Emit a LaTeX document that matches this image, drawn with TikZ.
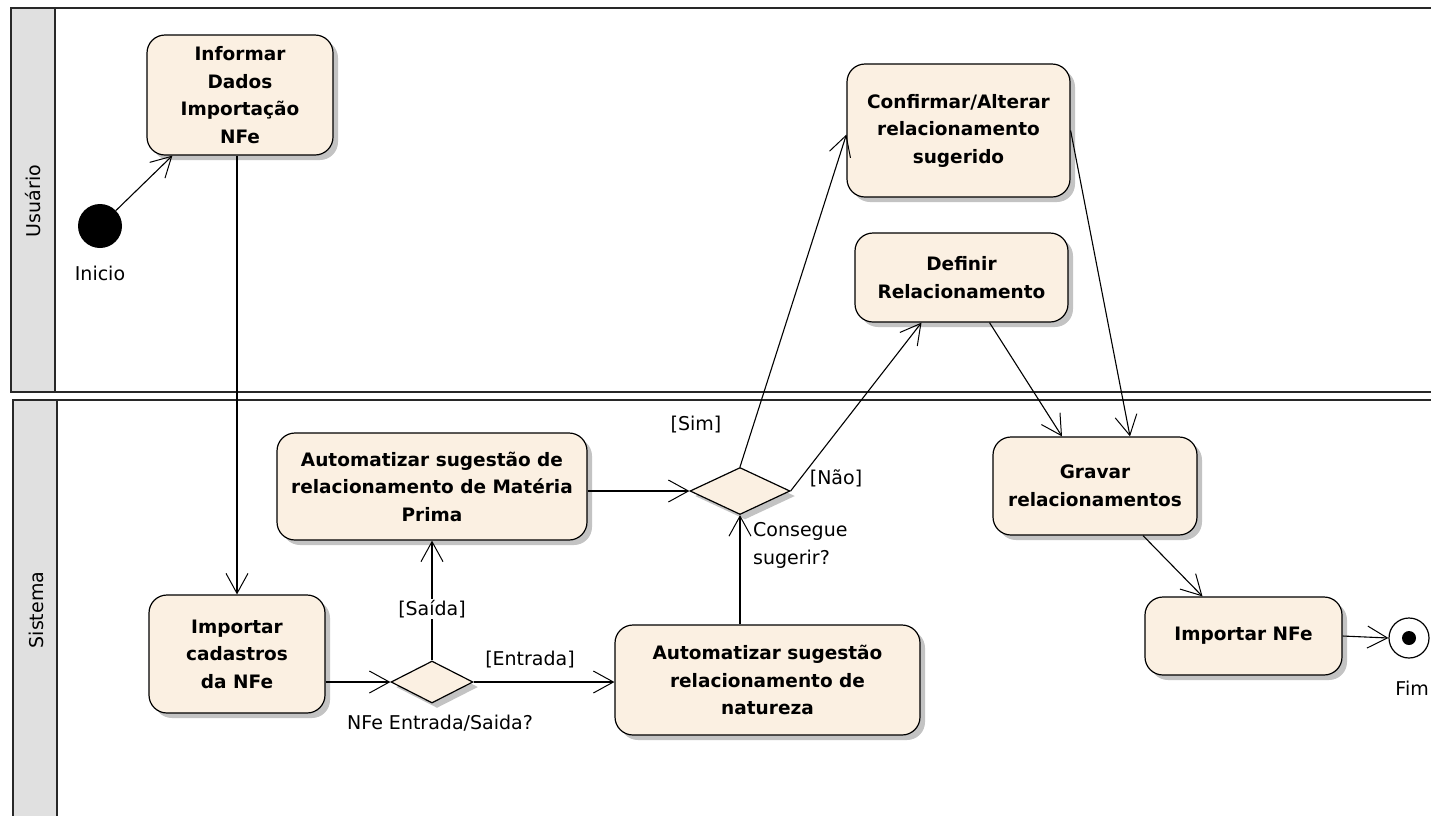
\documentclass[tikz,border=0pt]{standalone}
\usepackage{fontspec}
\setmainfont{DejaVu Sans}
\usetikzlibrary{arrows.meta,shapes.geometric,shadows,calc}
\definecolor{actfill}{RGB}{251,240,226}
\definecolor{lanegray}{RGB}{224,224,224}
\definecolor{shadowgray}{RGB}{195,195,195}
\definecolor{lanedark}{RGB}{40,40,40}
\tikzset{
  shad/.style={drop shadow={shadow xshift=5pt, shadow yshift=-5pt, fill=shadowgray, opacity=1}},
  act/.style={draw=black, line width=1.2pt, fill=actfill, rounded corners=18pt, align=center,
    font=\fontsize{18.5}{27.5}\selectfont\bfseries, inner sep=0pt, shad},
  dec/.style={diamond, draw=black, line width=1.2pt, fill=actfill, inner sep=0pt, shad},
  lab/.style={font=\fontsize{19}{28}\selectfont, inner sep=1pt},
  flow/.style={draw=black, line width=1.1pt, -{Straight Barb[length=20pt,width=22pt,line width=1pt]}},
  lanebox/.style={draw=lanedark, line width=2.8pt},
  lanehead/.style={draw=lanedark, line width=2.2pt, fill=lanegray}
}
\begin{document}
\begin{tikzpicture}[x=1pt,y=-1pt]
\useasboundingbox (0,0) rectangle (1431,815);
% lanes
\draw[lanebox, fill=white] (11,8) rectangle (1460,392);
\draw[lanehead] (11,8) rectangle (55,392);
\draw[lanebox, fill=white] (13,400) rectangle (1460,840);
\draw[lanehead] (13,400) rectangle (57,840);
\node[lab, rotate=90] (laneU) at (33,201) {Usuário};
\node[lab, rotate=90] (laneS) at (36,610) {Sistema};

% activities
\node[act, minimum width=186, minimum height=120] (inf) at (240,95) {Informar\\Dados\\Importação\\NFe};
\node[act, minimum width=223, minimum height=133] (conf) at (958.5,130.5) {Confirmar/Alterar\\relacionamento\\sugerido};
\node[act, minimum width=213, minimum height=89] (def) at (961.5,277.5) {Definir\\Relacionamento};
\node[act, minimum width=310, minimum height=107] (amp) at (432,486.5) {Automatizar sugestão de\\relacionamento de Matéria\\Prima};
\node[act, minimum width=204, minimum height=98] (grav) at (1095,486) {Gravar\\relacionamentos};
\node[act, minimum width=176, minimum height=118] (impcad) at (237,654) {Importar\\cadastros\\da NFe};
\node[act, minimum width=305, minimum height=110] (anat) at (767.5,680) {Automatizar sugestão\\relacionamento de\\natureza};
\node[act, minimum width=197, minimum height=78] (impnfe) at (1243.5,636) {Importar NFe};

% decisions
\node[dec, minimum width=82, minimum height=42] (d1) at (432,682) {};
\node[dec, minimum width=100, minimum height=47] (d2) at (740,491) {};

% initial and final
\node[circle, fill=black, minimum size=44, inner sep=0pt] (init) at (100,226) {};
\node[lab] (initL) at (100,273) {Inicio};
\node[circle, draw=black, line width=1.2pt, fill=white, minimum size=40, inner sep=0pt] (fim) at (1409,638) {};
\node[circle, fill=black, minimum size=14, inner sep=0pt] (fimdot) at (fim) {};
\node[lab, anchor=east] (fimL) at (1430,688) {Fim};

% labels
\node[lab] (simL) at (696,425) {[Sim]};
\node[lab] (naoL) at (836,478) {[Não]};
\node[lab, align=left, anchor=west] (consL) at (752,545) {Consegue\\sugerir?};
\node[lab] (entL) at (530,660) {[Entrada]};
\node[lab] (nfeL) at (440,723) {NFe Entrada/Saida?};

% connectors
\draw[flow] (init) -- ($(inf.south west)+(26,0)$);
\draw[flow] (impcad.north |- inf.south) -- (impcad.north);
\draw[flow] (impcad.east |- d1.west) -- (d1.west);
\draw[flow] (d1.north) -- node[lab, fill=white, pos=0.43] (saiL) {[Saída]} (amp.south);
\draw[flow] (d1.east) -- (d1.east -| anat.west);
\draw[flow] (d2.south |- anat.north) -- (d2.south);
\draw[flow] (amp.east |- d2.west) -- (d2.west);
\draw[flow] (d2.north) -- ($(conf.west)+(0,4)$);
\draw[flow] (d2.east) -- ($(def.south)+(-40,0)$);
\draw[flow] ($(def.south)+(28,0)$) -- ($(grav.north)+(-33,0)$);
\draw[flow] (conf.east) -- ($(grav.north)+(35,0)$);
\draw[flow] ($(grav.south)+(48,0)$) -- ($(impnfe.north)+(-41,0)$);
\draw[flow] (impnfe.east) -- (fim.west);
\end{tikzpicture}
\end{document}
